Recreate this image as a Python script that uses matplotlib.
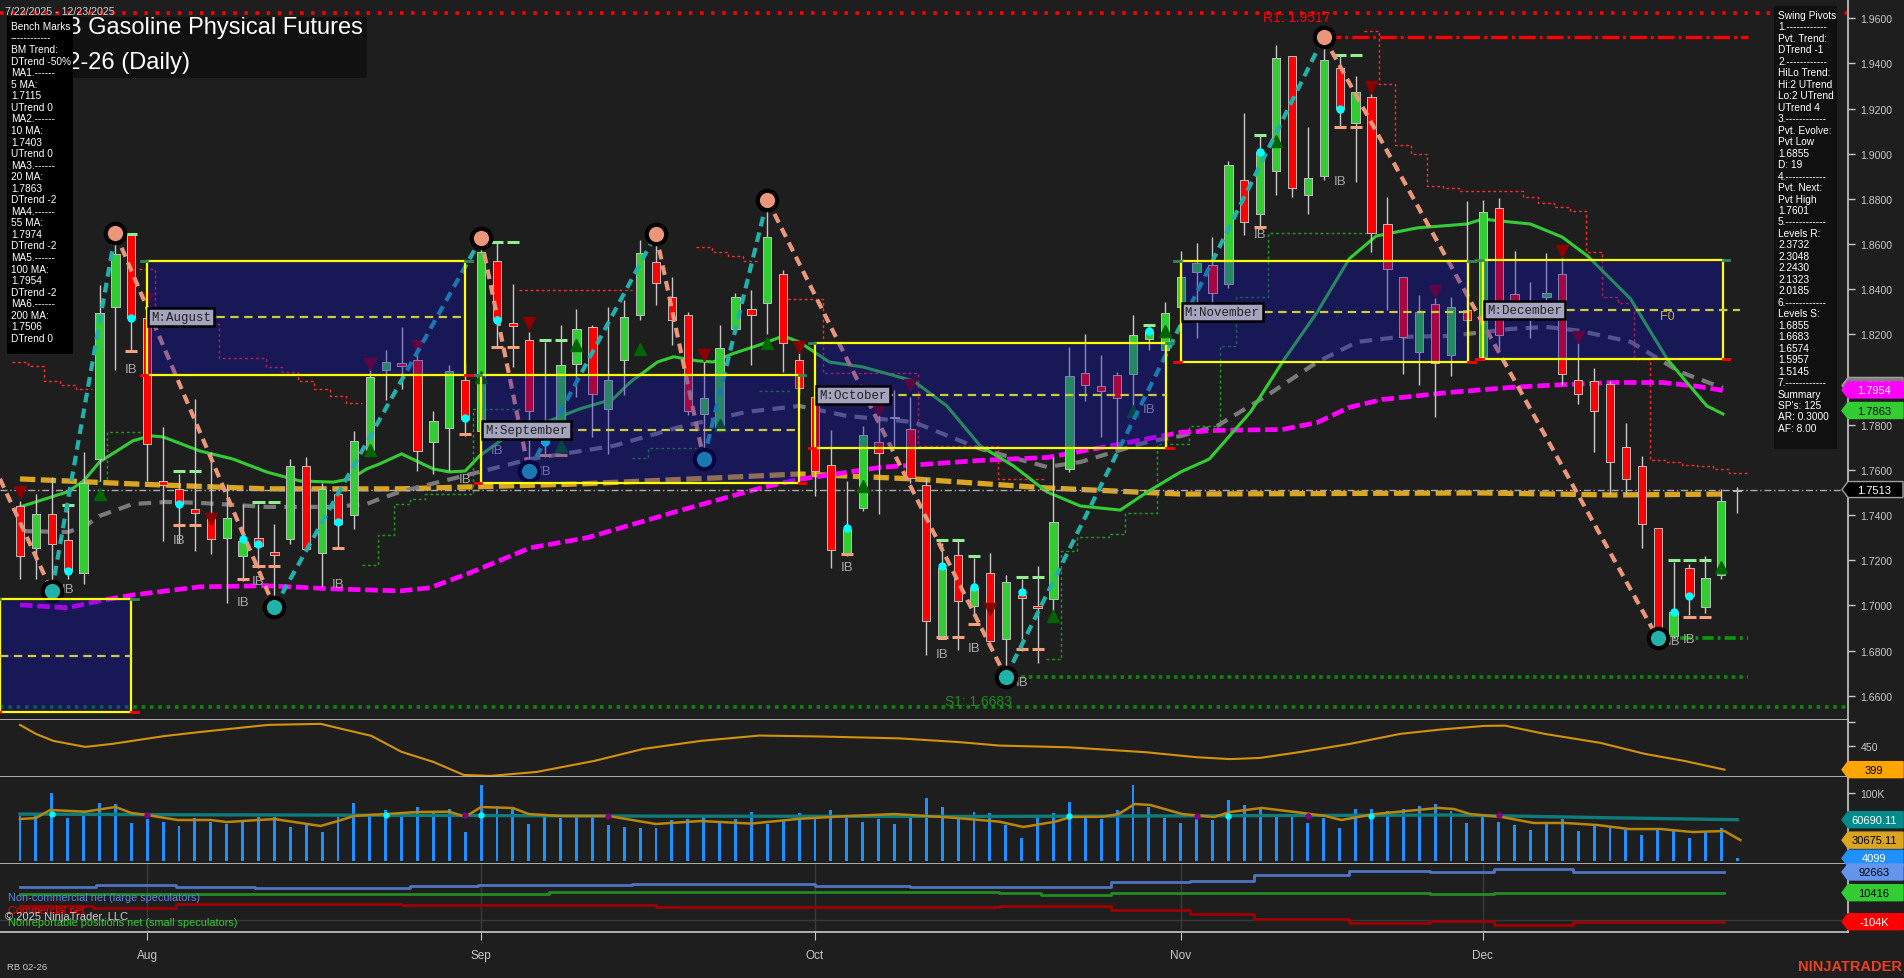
import numpy as np
import matplotlib
matplotlib.use("Agg")
import matplotlib.pyplot as plt
import matplotlib.patches as mpatches

plt.rcParams['font.family'] = ['Liberation Sans', 'DejaVu Sans']
plt.rcParams['lines.scale_dashes'] = False

# ---------------- data ----------------
date_range = "7/22/2025 - 12/23/2025"
title_lines = ["RBOB Gasoline Physical Futures", "RB 02-26 (Daily)"]
month_names = ["Aug", "Sep", "Oct", "Nov", "Dec"]
month_bars = [8, 29, 50, 73, 92]

opens = [1.7441, 1.7255, 1.7404, 1.7288, 1.7144, 1.7648, 1.8320, 1.8641, 1.8271, 1.7550,
         1.7515, 1.7425, 1.7399, 1.7297, 1.7218, 1.7300, 1.7235, 1.7293, 1.7618, 1.7233,
         1.7493, 1.7399, 1.7690, 1.8041, 1.8073, 1.8085, 1.7722, 1.7786, 1.8000, 1.7774,
         1.8525, 1.8251, 1.8174, 1.7745, 1.7774, 1.8070, 1.8231, 1.7870, 1.8088, 1.8285,
         1.8522, 1.8367, 1.8285, 1.7848, 1.7782, 1.8222, 1.8311, 1.8340, 1.8466, 1.8088,
         1.7922, 1.7622, 1.7233, 1.7433, 1.7722, 1.7835, 1.7782, 1.7533, 1.6850, 1.7221,
         1.6996, 1.7144, 1.6852, 1.7048, 1.6995, 1.7028, 1.7604, 1.8029, 1.7970, 1.8019,
         1.8023, 1.8178, 1.8130, 1.8322, 1.8478, 1.8507, 1.8423, 1.8886, 1.8733, 1.8922,
         1.9434, 1.8819, 1.8903, 1.9378, 1.9135, 1.9253, 1.8689, 1.8453, 1.8122, 1.8333,
         1.8107, 1.8307, 1.8100, 1.8760, 1.8377, 1.8290, 1.8367, 1.8466, 1.8000, 1.7992,
         1.7982, 1.7703, 1.7618, 1.7344, 1.6863, 1.7166, 1.6994, 1.7134, 1.7505]
highs = [1.7463, 1.7493, 1.7569, 1.7441, 1.7678, 1.8419, 1.8649, 1.8649, 1.8280, 1.7789,
         1.7583, 1.7915, 1.7678, 1.7538, 1.7451, 1.7451, 1.7359, 1.7648, 1.7655, 1.7544,
         1.7525, 1.7771, 1.8086, 1.8130, 1.8233, 1.8152, 1.7863, 1.8063, 1.8073, 1.8626,
         1.8604, 1.8422, 1.8211, 1.8166, 1.8240, 1.8311, 1.8240, 1.8322, 1.8352, 1.8619,
         1.8644, 1.8456, 1.8300, 1.8078, 1.8240, 1.8382, 1.8396, 1.8797, 1.8486, 1.8160,
         1.7952, 1.7777, 1.7552, 1.7796, 1.7841, 1.7955, 1.7922, 1.7566, 1.7277, 1.7285,
         1.7211, 1.7230, 1.7134, 1.7115, 1.7174, 1.7655, 1.8144, 1.8204, 1.8107, 1.8033,
         1.8285, 1.8236, 1.8344, 1.8570, 1.8607, 1.8630, 1.8970, 1.9182, 1.9086, 1.9481,
         1.9434, 1.9120, 1.9517, 1.9434, 1.9345, 1.9263, 1.8809, 1.8453, 1.8374, 1.8360,
         1.8367, 1.8789, 1.8797, 1.8804, 1.8570, 1.8431, 1.8560, 1.8537, 1.8160, 1.8053,
         1.7995, 1.7808, 1.7663, 1.7344, 1.7193, 1.7184, 1.7218, 1.7515, 1.7525]
lows = [1.7117, 1.7117, 1.7063, 1.7117, 1.7094, 1.7552, 1.8041, 1.8122, 1.7552, 1.7285,
        1.7277, 1.7240, 1.7226, 1.7011, 1.7107, 1.7166, 1.6991, 1.7270, 1.7240, 1.7085,
        1.7248, 1.7337, 1.7660, 1.7908, 1.7960, 1.7596, 1.7581, 1.7596, 1.7752, 1.7530,
        1.8143, 1.8056, 1.7596, 1.7655, 1.7700, 1.7922, 1.7744, 1.7670, 1.7930, 1.8263,
        1.8330, 1.8152, 1.7841, 1.7648, 1.7774, 1.8210, 1.8063, 1.8204, 1.8033, 1.7930,
        1.7485, 1.7164, 1.7218, 1.7418, 1.7406, 1.7700, 1.7543, 1.6781, 1.6850, 1.6803,
        1.6952, 1.6843, 1.6683, 1.6796, 1.6744, 1.6974, 1.7589, 1.7907, 1.7744, 1.7700,
        1.7863, 1.8130, 1.8122, 1.8307, 1.8186, 1.8344, 1.8404, 1.8641, 1.8671, 1.8816,
        1.8807, 1.8733, 1.8882, 1.9115, 1.8874, 1.8567, 1.8307, 1.8026, 1.7974, 1.7833,
        1.8014, 1.8254, 1.8085, 1.8130, 1.8270, 1.8184, 1.8263, 1.7974, 1.7893, 1.7678,
        1.7493, 1.7493, 1.7255, 1.6855, 1.6855, 1.6959, 1.6966, 1.7115, 1.7410]
closes = [1.7218, 1.7404, 1.7273, 1.7152, 1.7544, 1.8293, 1.8557, 1.8271, 1.7715, 1.7535,
          1.7448, 1.7410, 1.7295, 1.7386, 1.7285, 1.7263, 1.7225, 1.7618, 1.7248, 1.7515,
          1.7359, 1.7730, 1.8011, 1.8078, 1.8058, 1.7685, 1.7818, 1.8038, 1.7826, 1.8567,
          1.8266, 1.8236, 1.7860, 1.7720, 1.8066, 1.8222, 1.7934, 1.7996, 1.8275, 1.8560,
          1.8429, 1.8263, 1.7863, 1.7919, 1.8142, 1.8364, 1.8288, 1.8633, 1.8162, 1.7964,
          1.7596, 1.7244, 1.7337, 1.7755, 1.7675, 1.7830, 1.7566, 1.6932, 1.7166, 1.7018,
          1.7077, 1.6843, 1.7104, 1.7033, 1.6990, 1.7371, 1.8014, 1.7974, 1.7950, 1.7919,
          1.8196, 1.8214, 1.8296, 1.8453, 1.8518, 1.8382, 1.8952, 1.8697, 1.9009, 1.9422,
          1.8849, 1.8893, 1.9416, 1.9197, 1.9274, 1.8649, 1.8488, 1.8189, 1.8300, 1.8073,
          1.8320, 1.8263, 1.8740, 1.8196, 1.8315, 1.8280, 1.8384, 1.8026, 1.7937, 1.7859,
          1.7633, 1.7559, 1.7359, 1.6870, 1.6970, 1.7040, 1.7119, 1.7463, 1.7513]

# moving averages (bar index, price)
ma20_x = [0, 3, 4, 5, 7.1, 8.2, 9, 11.3, 13.4, 15.5, 17.6, 19.7, 20.8, 21.8, 22.6, 24, 26, 27, 28, 28.9,
          31, 33.1, 35.2, 37.3, 38.4, 40.1, 41.1, 42.6, 43.6, 44.8, 46.7, 48, 49, 50.9, 53, 56.2, 58.3,
          60.4, 62.5, 64.6, 66.7, 69.2, 70.9, 73, 74.8, 77.4, 79.4, 81.6, 83.6, 85.3, 87.9, 91, 92, 93.7,
          95, 97, 98.6, 101.3, 103.6, 104.8, 106.1, 107.1]
ma20_y = [1.7436, 1.7503, 1.7551, 1.7635, 1.7729, 1.7751, 1.7746, 1.7684, 1.7648, 1.7591, 1.7551, 1.7546,
          1.7560, 1.7604, 1.7626, 1.7671, 1.7604, 1.7591, 1.7595, 1.7662, 1.7768, 1.7812, 1.7870, 1.7914,
          1.7990, 1.8078, 1.8101, 1.8083, 1.8078, 1.8114, 1.8158, 1.8193, 1.8167, 1.8078, 1.8056, 1.7994,
          1.7883, 1.7706, 1.7617, 1.7502, 1.7440, 1.7422, 1.7502, 1.7591, 1.7648, 1.7857, 1.8078, 1.8300,
          1.8535, 1.8636, 1.8672, 1.8689, 1.8711, 1.8698, 1.8689, 1.8631, 1.8547, 1.8357, 1.8091, 1.7990,
          1.7883, 1.7848]
ma55_x = [0, 3, 4, 5, 7.1, 9.2, 11.3, 15.5, 19.7, 21.8, 22.6, 23.9, 28.9, 32.1, 37.3, 41.5, 45.7, 49, 52,
          56.2, 60.4, 64.6, 66.7, 70.9, 73, 75.3, 78.4, 81.6, 84.1, 86.8, 89.9, 93.7, 96, 98.1, 101.3,
          104.4, 107.1]
ma55_y = [1.7329, 1.7325, 1.7347, 1.7396, 1.7449, 1.7458, 1.7454, 1.7436, 1.7436, 1.7449, 1.7471, 1.7503,
          1.7591, 1.7648, 1.7706, 1.7790, 1.7857, 1.7883, 1.7839, 1.7812, 1.7693, 1.7613, 1.7635, 1.7724,
          1.7750, 1.7795, 1.7928, 1.8078, 1.8167, 1.8189, 1.8193, 1.8224, 1.8233, 1.8216, 1.8167, 1.8034,
          1.7963]
ma100_x = [0, 3, 5, 7.1, 11.3, 15.5, 19.7, 23.9, 25.8, 28.3, 32.1, 35.7, 41.5, 46.7, 48.9, 54.1, 60.4,
           64.6, 68.7, 73, 75.3, 79.4, 81.6, 83.6, 85.7, 89.9, 93.7, 96, 100.2, 103.3, 105.5, 107.1]
ma100_y = [1.7002, 1.6989, 1.7020, 1.7046, 1.7082, 1.7087, 1.7073, 1.7064, 1.7078, 1.7144, 1.7255, 1.7300,
           1.7420, 1.7522, 1.7557, 1.7611, 1.7642, 1.7655, 1.7708, 1.7766, 1.7775, 1.7779, 1.7810, 1.7877,
           1.7912, 1.7943, 1.7965, 1.7974, 1.7987, 1.7987, 1.7970, 1.7952]
ma200_x = [0, 7.1, 15.5, 23.9, 35.2, 43.6, 49, 56.2, 64.6, 73, 91.8, 100.2, 107.1]
ma200_y = [1.7560, 1.7538, 1.7516, 1.7516, 1.7538, 1.7564, 1.7582, 1.7560, 1.7520, 1.7493, 1.7498, 1.7489,
           1.7493]

# swing pivots
swing_x = [-1.26, 2, 6, 16, 29, 32, 40, 43, 47, 62, 82, 103]
swing_y = [1.7560, 1.7063, 1.8649, 1.6991, 1.8626, 1.7596, 1.8644, 1.7648, 1.8797, 1.6683, 1.9517, 1.6855]

# monthly range boxes
box_x0 = [-1.26, 8, 29, 50, 73, 92]
box_x1 = [7.0, 28, 49, 72.1, 91.1, 107.1]
box_top = [1.7028, 1.8527, 1.8020, 1.8162, 1.8524, 1.8530]
box_bot = [1.6528, 1.8020, 1.7541, 1.7697, 1.8077, 1.8091]
box_mid = [1.6776, 1.8276, 1.7778, 1.7932, 1.8300, 1.8308]
box_labels = ["", "M:August", "M:September", "M:October", "M:November", "M:December"]

# trailing stop step lines
red_trails = [
    ([-0.5, 0.5, 1.5, 2.5, 3.5, 4.5], [1.8079, 1.8061, 1.7995, 1.7977, 1.7959, 1.7959]),
    ([7.5, 8.5, 12.5, 15.5, 16.5, 17.5, 18.5, 19.5, 20.5, 21.5],
     [1.8491, 1.8247, 1.8096, 1.8056, 1.8034, 1.7994, 1.7959, 1.7928, 1.7897, 1.7897]),
    ([31.4, 38.5], [1.8397, 1.8397]),
    ([42.5, 43.5, 44.5, 45.5, 46.5], [1.8587, 1.8565, 1.8547, 1.8525, 1.8525]),
    ([47.9, 50.5, 56.5, 61.5, 64.5], [1.8357, 1.8028, 1.7705, 1.7559, 1.7559]),
    ([84.5, 85.5, 86.5, 87.5, 88.5, 89.5, 90.5, 94.5, 95.5, 96.5, 97.5, 98.5, 99.5, 100.5, 101.5, 102.5,
      103.5, 104.5, 105.5, 106.5, 107.5, 108.6],
     [1.9544, 1.9309, 1.9039, 1.8999, 1.8857, 1.8848, 1.8835, 1.8809, 1.8782, 1.8764, 1.8747, 1.8565,
      1.8366, 1.8339, 1.8091, 1.7644, 1.7635, 1.7622, 1.7617, 1.7604, 1.7586, 1.7586]),
]
green_trails = [
    ([4.5, 5.5, 7.9], [1.7552, 1.7768, 1.7768]),
    ([21.5, 22.5, 23.5, 24.5, 25.5, 28.5, 31.5], [1.7179, 1.7312, 1.7450, 1.7472, 1.7494, 1.7871, 1.7871]),
    ([38.5, 39.5, 42.5], [1.7653, 1.7698, 1.7698]),
    ([46.5, 48.5], [1.7950, 1.7950]),
    ([64.5, 65.5, 66.5, 68.5, 69.5, 71.5, 73.5, 75.5, 76.5, 78.5, 84.9],
     [1.6763, 1.7241, 1.7303, 1.7317, 1.7410, 1.7715, 1.7795, 1.8150, 1.8367, 1.8650, 1.8650]),
]

# markers
tri_dn_x = [0, 8, 12, 22, 25, 32, 43, 49, 54, 56, 61, 85, 89, 97, 98]
tri_dn_y = [1.7502, 1.8357, 1.7383, 1.8069, 1.8149, 1.8251, 1.8109, 1.8144, 1.7870, 1.7976, 1.6984,
            1.9296, 1.8393, 1.8570, 1.8189]
tri_up_x = [5, 22, 29, 34, 35, 39, 44, 47, 53, 65, 70, 72, 79, 107]
tri_up_y = [1.7493, 1.7688, 1.8011, 1.7706, 1.8153, 1.8136, 1.7800, 1.8162, 1.7529, 1.6954, 1.7861,
            1.8215, 1.9057, 1.7170]
cyan_x = [3, 7, 10, 14, 15, 20, 28, 30, 33, 52, 58, 60, 63, 71, 78, 83, 104, 105]
cyan_y = [1.7152, 1.8273, 1.7450, 1.7295, 1.7273, 1.7370, 1.7831, 1.8265, 1.7724, 1.7344, 1.7176, 1.7083,
          1.7060, 1.8216, 1.9009, 1.9199, 1.6970, 1.7041]
ib_mark_x = [3, 7, 10, 11, 14, 15, 16, 20, 28, 30, 31, 33, 34, 52, 58, 59, 60, 63, 64, 71, 78, 83, 84,
             104, 105, 106]
ib_mark_hi = [1.7446, 1.8645, 1.7595, 1.7595, np.nan, 1.7459, 1.7459, np.nan, np.nan, 1.8609, 1.8609,
              1.8176, 1.8176, np.nan, 1.7290, 1.7290, 1.7219, 1.7126, 1.7126, 1.8242, 1.9083, 1.9438,
              1.9438, 1.7202, 1.7202, 1.7202]
ib_mark_lo = [np.nan, 1.8127, 1.7356, 1.7356, 1.7117, 1.7175, 1.7175, 1.7255, 1.7759, 1.8144, 1.8144,
              1.7666, 1.7666, 1.7229, 1.6861, 1.6861, 1.6917, 1.6808, 1.6808, np.nan, 1.8676, 1.9119,
              1.9119, np.nan, 1.6949, 1.6949]
ib_text_x = [3, 7, 10, 14, 15, 20, 28, 30, 33, 52, 58, 60, 63, 71, 78, 83, 104, 105]
ib_text_y = [1.7073, 1.8047, 1.7291, 1.7016, 1.7109, 1.7096, 1.7560, 1.7689, 1.7596, 1.7171, 1.6786,
             1.6813, 1.6662, 1.7870, 1.8645, 1.8880, 1.6840, 1.6849]

levels = {"top_dotted": 1.9623, "R1": 1.9517, "S1": 1.6683, "bottom_dotted": 1.6550, "pvt_low": 1.6855}

bench_lines = ["Bench Marks", "------------", "BM Trend:", "DTrend -50%", "MA1.------", "5 MA:", "1.7115",
               "UTrend 0", "MA2.------", "10 MA:", "1.7403", "UTrend 0", "MA3.------", "20 MA:", "1.7863",
               "DTrend -2", "MA4.------", "55 MA:", "1.7974", "DTrend -2", "MA5.------", "100 MA:", "1.7954",
               "DTrend -2", "MA6.------", "200 MA:", "1.7506", "DTrend 0"]
swing_lines = ["Swing Pivots", "1.------------", "Pvt. Trend:", "DTrend -1", "2.------------", "HiLo Trend:",
               "Hi:2 UTrend", "Lo:2 UTrend", "UTrend 4", "3.------------", "Pvt. Evolve:", "Pvt Low", "1.6855",
               "D: 19", "4.------------", "Pvt. Next:", "Pvt High", "1.7601", "5.------------", "Levels R:",
               "2.3732", "2.3048", "2.2430", "2.1323", "2.0185", "6.------------", "Levels S:", "1.6855",
               "1.6683", "1.6574", "1.5957", "1.5145", "7.------------", "Summary", "SP's: 125", "AR: 0.3000",
               "AF: 8.00"]

# panel 2 (oscillator)
osc_x = [0, 1, 2.1, 4.1, 5.8, 9.1, 11.4, 15.6, 18.9, 22.1, 24, 26, 27.9, 29.6, 32.5, 36.1, 39.2, 42.8, 46.5,
         50.3, 55.3, 59.1, 61.6, 66, 70.8, 74, 76.1, 78, 80.5, 83.6, 86.8, 89.3, 92.1, 93.4, 95.9, 99.4, 102.2,
         104.7, 107.2]
osc_y = [494.6, 475.5, 460.6, 447.9, 454.3, 471, 479.8, 494.6, 496.8, 471.3, 437.3, 416, 388.4, 386.3, 394.8,
         418, 443.6, 460.6, 472, 470, 466, 458, 450.7, 447, 436.6, 426, 422, 424.5, 437, 454, 475.5, 484.6,
         492.5, 493, 475.5, 456.4, 433, 418, 399.6]

# panel 3 (volume, thousands)
volume_k = [65.7, 67.6, 100, 63.2, 71.6, 85.3, 83.8, 55.9, 61.7, 56.9, 51.5, 63.2, 57.3, 54.4, 60.3, 64.7,
            64.7, 50.0, 52.9, 42.6, 64.7, 85.3, 65.7, 75.0, 67.6, 79.4, 71.0, 76.4, 42.6, 111.7, 80.9, 76.4,
            54.4, 66.2, 63.2, 65.7, 66.2, 52.9, 50.0, 48.5, 48.5, 60.3, 61.7,
            66, 58, 62, 72, 55, 60, 70, 64, 75, 68, 58, 62, 54, 68, 92, 80, 66, 72, 70,
            52.9, 33.8, 63.2, 70.6, 86.7, 65.1, 61.7, 75.0, 111.7, 79.4, 63.2, 55.9, 61.7, 60.3, 89.7, 82.3,
            76.4, 67.6, 66.6, 55.9, 63.2, 48.5, 76.4, 76.4, 73.5, 76.4, 80.9, 83.8, 73.5, 55.9, 64.7, 57.3,
            52.9, 45.6, 57.3, 61.7, 44.1, 52.9, 48.5, 45.6, 38.2, 47.0, 47.0, 33.8, 44.1, 48.5, 4.1]
vol_avg_x = [0, 1, 1.9, 4.1, 6, 7, 8, 9.9, 12, 13, 16, 18.9, 20, 21, 23, 25, 27, 28, 29, 31, 32, 34, 37, 40,
             42.8, 46, 49, 52, 55, 58.5, 61.6, 63.1, 65.1, 66.1, 68.1, 69.1, 70.1, 71.1, 73.1, 75.1, 76.1, 78.1,
             80.2, 82.1, 83.1, 85.2, 87.2, 89.2, 90.2, 91.2, 93.2, 95.2, 97.2, 99.2, 101.2, 103.2, 105.2, 107.2,
             108.2]
vol_avg_k = [61.7, 63.2, 75, 72.5, 79.4, 70.6, 67.6, 60.3, 60.3, 57.3, 61.7, 51.5, 58.8, 66.2, 69, 72, 72.5,
             65, 79.4, 77.9, 69, 66.2, 66.2, 54.4, 58.8, 55, 62, 66, 69, 64, 57.8, 50, 57.8, 64.7, 65.1, 69,
             83.8, 82.3, 69, 64.7, 72, 78, 72, 66.2, 60.3, 69, 73.5, 78, 76.4, 69, 64.7, 55.9, 55.9, 52.9, 47,
             47, 42.6, 44.1, 30.7]
vol_slow_x = [0, 10, 20, 40, 60, 75, 90, 95, 100, 108]
vol_slow_k = [69, 68, 67.5, 66, 65.5, 66.5, 67.6, 65.7, 63.5, 60.7]
vol_cyan_x = [2, 23, 29, 66, 76, 85]
vol_cyan_k = [69, 67, 67, 66, 66.5, 66.5]
vol_purple_x = [8, 28, 37, 74, 81, 93]
vol_purple_k = [68, 67, 66, 66, 66.5, 67]

# panel 4 (COT, thousands) step series
cot_nc_x = [0, 4.8, 9.8, 14.8, 24.5, 28.8, 38.5, 50, 56, 68.6, 73.6, 77.6, 83.6, 88.7, 92.7, 97.7, 107.2]
cot_nc_k = [34.3, 42.2, 34.3, 30.3, 38.2, 42.2, 45.0, 38.0, 34.3, 51.7, 58.1, 81.9, 97.8, 92.7, 104.6, 92.7,
            92.7]
cot_sm_x = [0, 33.3, 61.6, 64.2, 68.6, 88.7, 92.7, 107.2]
cot_sm_k = [5.3, 12.0, 8.0, 1.3, 10.4, 5.3, 10.4, 10.4]
cot_cm_x = [0, 4.6, 9.8, 24, 40, 61.6, 68.6, 73.6, 77.6, 83.6, 88.7, 92.7, 97.7, 107.2]
cot_cm_k = [-41.2, -49.2, -35.7, -38.0, -45.0, -41.2, -59.5, -73.0, -94.1, -108.8, -100.8, -117.9, -104.8,
            -104.8]

# ---------------- figure ----------------
W, H = 1904, 979
BG = '#1E1E1E'
AXC = '#C8C8C8'
XMIN, XMAX = -1.258, 114.97
AX_R = 1848

fig = plt.figure(figsize=(W / 100, H / 100), dpi=100, facecolor=BG)


def fx(x):
    return x / W


def fy(y):
    return 1 - y / H


ax1 = fig.add_axes([0, fy(721), fx(AX_R), 721 / H])
ax2 = fig.add_axes([0, fy(778), fx(AX_R), 57 / H])
ax3 = fig.add_axes([0, fy(865), fx(AX_R), 87 / H])
ax4 = fig.add_axes([0, fy(933), fx(AX_R), 68 / H])

for ax in (ax1, ax2, ax3, ax4):
    ax.set_facecolor(BG)
    ax.set_xlim(XMIN, XMAX)
    for s in ('left', 'top'):
        ax.spines[s].set_visible(False)
    for s in ('right', 'bottom'):
        ax.spines[s].set_color(AXC)
        ax.spines[s].set_linewidth(1.2)
    ax.yaxis.tick_right()
    ax.tick_params(axis='y', colors=AXC, labelcolor=AXC, labelsize=7.6, length=5, width=1, pad=4)
    ax.tick_params(axis='x', bottom=False, labelbottom=False)

ax1.set_ylim(1.64923, 1.96855)
ax2.set_ylim(384, 505)
ax3.set_ylim(-4.41, 123.5)
ax4.set_ylim(-145.7, 124.4)

# ---- price panel ----
yt = np.round(np.arange(1.66, 1.9601, 0.02), 2)
ax1.set_yticks(yt)
ax1.set_yticklabels([f"{v:.4f}" for v in yt])

x = np.arange(len(opens))
o = np.array(opens); h = np.array(highs); l = np.array(lows); c = np.array(closes)

# full-width level lines
ax1.axhline(levels["top_dotted"], color='#FF0000', lw=2.6, dashes=(2.5, 5.5), zorder=2)
ax1.axhline(levels["bottom_dotted"], color='#0A8A0A', lw=2.6, dashes=(2.5, 3.5), zorder=2)
ax1.plot([82, 108.7], [levels["R1"]] * 2, color='#FF0000', lw=2.4, dashes=(12, 3, 2, 3), zorder=2)
ax1.plot([62, 108.7], [levels["S1"]] * 2, color='#0A8A0A', lw=2.6, dashes=(2.5, 3), zorder=2)
ax1.plot([103, 108.7], [levels["pvt_low"]] * 2, color='#0A9A0A', lw=2.6, dashes=(8, 3, 2, 3), zorder=2)

for tx, ty in red_trails:
    ax1.plot(tx, ty, drawstyle='steps-post', color='#FF2A2A', lw=1.0, dashes=(2, 2), zorder=1.5)
for tx, ty in green_trails:
    ax1.plot(tx, ty, drawstyle='steps-post', color='#1E9E1E', lw=1.0, dashes=(2, 2), zorder=1.5)

# moving averages
ax1.plot(ma200_x, ma200_y, color='#DAA520', lw=3.8, dashes=(11, 4), zorder=2.2, solid_capstyle='butt')
ax1.plot(ma55_x, ma55_y, color='#7A7A7A', lw=3.0, dashes=(9, 6), zorder=2.3)
ax1.plot(ma100_x, ma100_y, color='#FF00FF', lw=3.4, dashes=(9, 3.5), zorder=2.4)
ax1.plot(ma20_x, ma20_y, color='#32CD32', lw=2.2, zorder=2.5)
ax1.axhline(c[-1], color='#A9A9A9', lw=1.0, dashes=(5, 2, 1, 2), zorder=2.6)

# candles
cols = ['#32CD32' if cc >= oo else '#FF0000' for oo, cc in zip(o, c)]
ax1.vlines(x, l, h, color='#C8C8C8', lw=1.0, zorder=3)
ax1.bar(x, np.maximum(np.abs(c - o), 0.0006), bottom=np.minimum(o, c), width=0.52, color=cols,
        edgecolor='#BEBEBE', linewidth=0.7, zorder=3.2)

# IB marks, triangles, dots
ibx = np.array(ib_mark_x, dtype=float)
ibh = np.array(ib_mark_hi); ibl = np.array(ib_mark_lo)
mh = ~np.isnan(ibh); ml = ~np.isnan(ibl)
ax1.hlines(ibh[mh], ibx[mh] - 0.38, ibx[mh] + 0.38, color='#90EE90', lw=2.2, zorder=3.4)
ax1.hlines(ibl[ml], ibx[ml] - 0.38, ibx[ml] + 0.38, color='#F4A07A', lw=2.2, zorder=3.4)
ax1.plot(tri_dn_x, tri_dn_y, 'v', color='#8B0000', ms=9, zorder=3.5, linestyle='none')
ax1.plot(tri_up_x, tri_up_y, '^', color='#006400', ms=9, zorder=3.5, linestyle='none')
for tx, ty in zip(ib_text_x, ib_text_y):
    ax1.text(tx, ty, "IB", color='#A8A8A8', fontsize=9.5, ha='center', va='center', zorder=3.6)

# swing lines
for i in range(len(swing_x) - 1):
    up = swing_y[i + 1] > swing_y[i]
    ax1.plot(swing_x[i:i + 2], swing_y[i:i + 2], color='#20B2AA' if up else '#E9967A', lw=3.0,
             dashes=(7, 4.5), zorder=4)
for i in range(1, len(swing_x)):
    is_high = swing_y[i] > swing_y[i - 1]
    ax1.plot(swing_x[i], swing_y[i], 'o', ms=14, mfc='#E9967A' if is_high else '#20B2AA', mec='black',
             mew=3, zorder=4.5)
ax1.plot(cyan_x, cyan_y, 'o', color='#00FFFF', ms=5, zorder=4.6, linestyle='none')

# monthly boxes
for x0, x1, tp, bt, md, lab in zip(box_x0, box_x1, box_top, box_bot, box_mid, box_labels):
    ax1.add_patch(mpatches.Rectangle((x0, bt), x1 - x0, tp - bt, facecolor='#1010BB', alpha=0.36,
                                     edgecolor='none', zorder=5))
    ax1.add_patch(mpatches.Rectangle((x0, bt), x1 - x0, tp - bt, fill=False, edgecolor='#FFFF00',
                                     lw=1.6, zorder=6))
    ax1.plot([x0, x1 + (1.1 if lab == "M:December" else 0)], [md, md], color='#CCCC3A', lw=1.6,
             dashes=(6, 4), zorder=6)
    ax1.plot([x0 - 0.4, x0], [tp, tp], color='#2E8B57', lw=2, zorder=6)
    ax1.plot([x1, x1 + 0.4], [tp, tp], color='#2E8B57', lw=2, zorder=6)
    ax1.plot([x0 - 0.4, x0], [bt, bt], color='#FF0000', lw=2, zorder=6)
    ax1.plot([x1, x1 + 0.4], [bt, bt], color='#FF0000', lw=2, zorder=6)
    if lab:
        ax1.text(x0 + 0.25, md, lab, fontfamily='Liberation Mono', fontsize=9, color='#222222',
                 ha='left', va='center', zorder=8,
                 bbox=dict(facecolor='#A4A4BE', edgecolor='black', lw=1.8, boxstyle='square,pad=0.25'))
ax1.text(103.6, 1.8282, "F0", color='#C0B040', fontsize=9, ha='center', va='center', zorder=8)
ax1.text(78.2, 1.9606, "R1: 1.9517", color='#FF0000', fontsize=10, ha='left', va='center', zorder=8)
ax1.text(58.2, 1.6577, "S1: 1.6683", color='#1E8B1E', fontsize=10, ha='left', va='center', zorder=8)

# ---- panel 2 ----
ax2.plot(osc_x, osc_y, color='#D4920A', lw=1.5)
ax2.set_yticks([450, 500])
ax2.set_yticklabels(['450', ''])

# ---- panel 3 ----
ax3.bar(x, volume_k, width=0.18, color='#1E90FF', zorder=2)
ax3.plot(vol_slow_x, vol_slow_k, color='#0E7C7B', lw=2.4, zorder=3)
ax3.plot(vol_avg_x, vol_avg_k, color='#B8860B', lw=1.8, zorder=3.5)
ax3.plot(vol_cyan_x, vol_cyan_k, 'o', color='#00FFFF', ms=3.5, zorder=4, linestyle='none')
ax3.plot(vol_purple_x, vol_purple_k, 'o', color='#800080', ms=3.5, zorder=4, linestyle='none')
ax3.set_yticks([100])
ax3.set_yticklabels(['100K'])

# ---- panel 4 ----
for mb in month_bars:
    ax4.axvline(mb, color='#3A3A3A', lw=1, zorder=0.5)
ax4.axhline(-100, color='#3A3A3A', lw=1, zorder=0.5)
ax4.plot(cot_nc_x, cot_nc_k, drawstyle='steps-post', color='#4F74C0', lw=2)
ax4.plot(cot_sm_x, cot_sm_k, drawstyle='steps-post', color='#228B22', lw=2)
ax4.plot(cot_cm_x, cot_cm_k, drawstyle='steps-post', color='#A00000', lw=2)
ax4.set_yticks([])
ax4.set_xticks(month_bars)
ax4.set_xticklabels(month_names)
ax4.tick_params(axis='x', bottom=True, labelbottom=True, colors=AXC, labelcolor=AXC, labelsize=8.5,
                length=6, pad=6)

# ---- right-side value tags (later tags drawn above earlier ones) ----
tag_count = [0]


def tag(ax, value, text, fc, tc, ec=None):
    yc = ax.transData.transform((0, value))[1]
    hh = 8
    zb = 20 + 2 * tag_count[0]
    tag_count[0] += 1
    pts = [(1842, yc), (1848, yc + hh), (1903, yc + hh), (1903, yc - hh), (1848, yc - hh)]
    poly = mpatches.Polygon([(px / W, py / H) for px, py in pts], closed=True, transform=fig.transFigure,
                            facecolor=fc, edgecolor=ec or fc, lw=1, zorder=zb)
    fig.add_artist(poly)
    fig.text(1874 / W, yc / H, text, color=tc, fontsize=8, ha='center', va='center', zorder=zb + 1)


tag(ax1, 1.7974, "1.7974", '#808080', 'white', '#A0A0A0')
tag(ax1, 1.7954, "1.7954", '#FF00FF', 'white')
tag(ax1, 1.7863, "1.7863", '#32CD32', 'black')
tag(ax1, c[-1], f"{c[-1]:.4f}", '#000000', 'white', '#A0A0A0')
tag(ax2, osc_y[-1], "399", '#FFA500', 'black')
tag(ax3, vol_slow_k[-1], "60690.11", '#008B8B', 'white')
tag(ax3, vol_avg_k[-1], "30675.11", '#DAA520', 'black')
tag(ax3, volume_k[-1], "4099", '#1E90FF', 'white')
tag(ax4, cot_nc_k[-1], "92663", '#6495ED', 'black')
tag(ax4, cot_sm_k[-1], "10416", '#32CD32', 'black')
tag(ax4, cot_cm_k[-1], "-104K", '#FF0000', 'white')

# ---- overlay text boxes ----
fig.add_artist(mpatches.Rectangle((fx(10), fy(79)), 357 / W, 61 / H, transform=fig.transFigure,
                                  facecolor='#111111', edgecolor='none', zorder=10))
fig.text(fx(15), fy(28), title_lines[0], color='white', fontsize=17, ha='left', va='center', zorder=11)
fig.text(fx(15), fy(63), title_lines[1], color='white', fontsize=17, ha='left', va='center', zorder=11)

fig.add_artist(mpatches.Rectangle((fx(7), fy(355)), 66 / W, 338 / H, transform=fig.transFigure,
                                  facecolor='#000000', edgecolor='none', zorder=12))
for k, s in enumerate(bench_lines):
    fig.text(fx(11), fy(27 + 11.55 * k), s, color='white', fontsize=7.3, ha='left', va='center', zorder=13)

fig.add_artist(mpatches.Rectangle((fx(1774), fy(450)), 63 / W, 443 / H, transform=fig.transFigure,
                                  facecolor='#101010', edgecolor='none', zorder=12))
for k, s in enumerate(swing_lines):
    fig.text(fx(1778), fy(16 + 11.47 * k), s, color='white', fontsize=7.3, ha='left', va='center', zorder=13)

fig.text(fx(5), fy(12), date_range, color='#D3D3D3', fontsize=7.7, ha='left', va='center', zorder=15)

# panel 4 legend and footer
fig.text(fx(8), fy(898), "Non-commercial net (large speculators)", color='#5A8AE0', fontsize=7.8,
         ha='left', va='center', zorder=15)
fig.text(fx(8), fy(911), "Commercial net", color='#FF0000', fontsize=7.8, ha='left', va='center', zorder=15)
fig.text(fx(8), fy(923), "Nonreportable positions net (small speculators)", color='#32CD32', fontsize=7.8,
         ha='left', va='center', zorder=15)
fig.text(fx(5), fy(917), "\u00a9 2025 NinjaTrader, LLC", color='#D0D0D0', fontsize=8, ha='left', va='center',
         zorder=16)
fig.text(fx(7), fy(968), "RB 02-26", color='#C8C8C8', fontsize=6.8, ha='left', va='center', zorder=15)
fig.text(fx(1902), fy(967), "NINJATRADER", color='#E8431E', fontsize=10.5, fontweight='bold', ha='right',
         va='center', zorder=15)

fig.savefig("out.png", dpi=100, facecolor=BG)
